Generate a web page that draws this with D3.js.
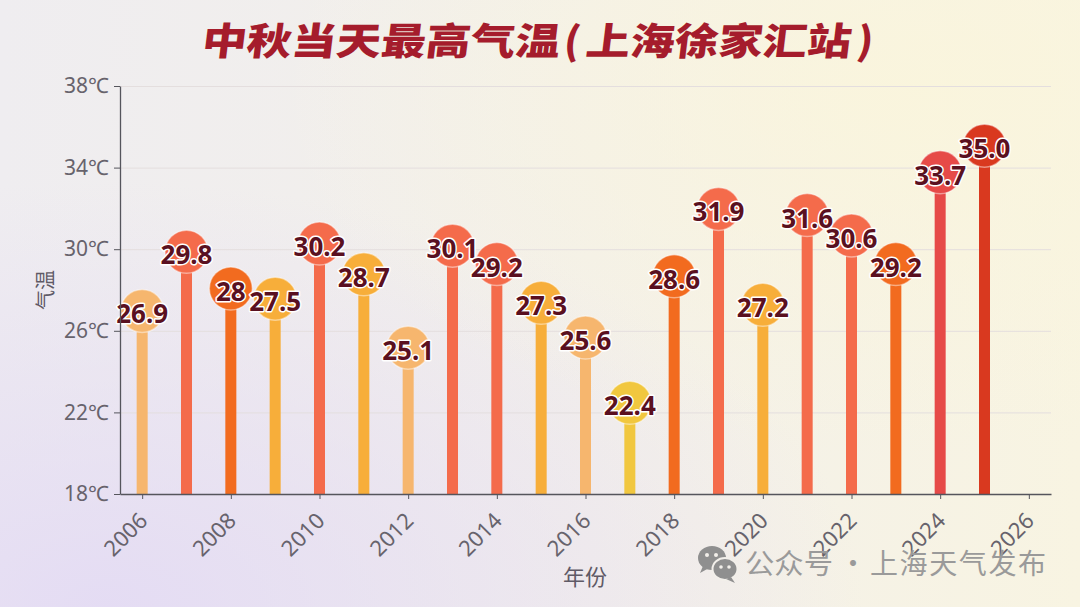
<!DOCTYPE html>
<html>
<head>
<meta charset="utf-8">
<script src="https://cdn.jsdelivr.net/npm/d3@7"></script>
<style>
  html, body { margin: 0; padding: 0; overflow: hidden; }
  svg { display: block; }
</style>
</head>
<body>
<svg id="chart" width="1080" height="607"></svg>
<script>
// data
const years = [2006, 2007, 2008, 2009, 2010, 2011, 2012, 2013, 2014, 2015,
  2016, 2017, 2018, 2019, 2020, 2021, 2022, 2023, 2024, 2025];
const temps = [26.9, 29.8, 28, 27.5, 30.2, 28.7, 25.1, 30.1, 29.2, 27.3,
  25.6, 22.4, 28.6, 31.9, 27.2, 31.6, 30.6, 29.2, 33.7, 35.0];
const labels = ['26.9', '29.8', '28', '27.5', '30.2', '28.7', '25.1', '30.1', '29.2', '27.3',
  '25.6', '22.4', '28.6', '31.9', '27.2', '31.6', '30.6', '29.2', '33.7', '35.0'];
const groups = ['peach', 'coral', 'orange', 'amber', 'coral', 'amber', 'peach', 'coral', 'coral', 'amber',
  'peach', 'yellow', 'orange', 'coral', 'amber', 'coral', 'coral', 'orange', 'red', 'deep'];
const yTicks = [18, 22, 26, 30, 34, 38];
const xTicks = [2006, 2008, 2010, 2012, 2014, 2016, 2018, 2020, 2022, 2024, 2026];

const width = 1080;
const height = 607;
const margin = { top: 86, right: 29, bottom: 113, left: 120 };

const svg = d3.select('#chart');

const x = d3.scaleLinear()
  .domain([2005.5, 2026.5])
  .range([margin.left, width - margin.right]);

const y = d3.scaleLinear()
  .domain([18, 38])
  .range([height - margin.bottom, margin.top]);

const color = d3.scaleOrdinal()
  .domain(['peach', 'coral', 'orange', 'amber', 'yellow', 'red', 'deep'])
  .range(['#f6b66e', '#f46b4b', '#f26b1f', '#f7ae3a', '#f1c73f', '#e64a48', '#d9391f']);

// background
const defs = svg.append('defs');
const bg = defs.append('linearGradient').attr('id', 'bg').attr('x1', 0).attr('x2', 1).attr('y1', 0).attr('y2', 0);
bg.append('stop').attr('offset', '0%').attr('stop-color', '#efedf0');
bg.append('stop').attr('offset', '55%').attr('stop-color', '#f3f0ea');
bg.append('stop').attr('offset', '100%').attr('stop-color', '#f8f4e2');

const lav = defs.append('radialGradient').attr('id', 'lav')
  .attr('cx', 0.1).attr('cy', 1).attr('r', 0.7);
lav.append('stop').attr('offset', '0%').attr('stop-color', '#e3daf4').attr('stop-opacity', 0.9);
lav.append('stop').attr('offset', '100%').attr('stop-color', '#e3daf4').attr('stop-opacity', 0);

const warm = defs.append('radialGradient').attr('id', 'warm')
  .attr('cx', 0.85).attr('cy', 0.15).attr('r', 0.6);
warm.append('stop').attr('offset', '0%').attr('stop-color', '#faf5dc').attr('stop-opacity', 0.9);
warm.append('stop').attr('offset', '100%').attr('stop-color', '#faf5dc').attr('stop-opacity', 0);

svg.append('rect').attr('width', width).attr('height', height).attr('fill', 'url(#bg)');
svg.append('rect').attr('width', width).attr('height', height).attr('fill', 'url(#lav)');
svg.append('rect').attr('width', width).attr('height', height).attr('fill', 'url(#warm)');

// title, split so the pieces sit where the poster font puts them
const title = svg.append('g')
  .attr('transform', 'skewX(-7) translate(6.6,0)')
  .style('font-family', '"Noto Sans CJK SC", sans-serif')
  .style('font-weight', 900)
  .style('font-size', '38px')
  .attr('fill', '#a51c2c');
title.append('text').attr('x', 201).attr('y', 55)
  .attr('textLength', 358).attr('lengthAdjust', 'spacingAndGlyphs').text('中秋当天最高气温');
title.append('text').attr('x', 563).attr('y', 55)
  .attr('textLength', 16).attr('lengthAdjust', 'spacingAndGlyphs').text('(');
title.append('text').attr('x', 585).attr('y', 55)
  .attr('textLength', 265).attr('lengthAdjust', 'spacingAndGlyphs').text('上海徐家汇站');
title.append('text').attr('x', 856).attr('y', 55)
  .attr('textLength', 16).attr('lengthAdjust', 'spacingAndGlyphs').text(')');

// grid
svg.append('g')
  .attr('transform', `translate(${margin.left},0)`)
  .call(d3.axisLeft(y).tickValues(yTicks.slice(1)).tickSize(-(width - margin.left - margin.right)).tickFormat(''))
  .call(g => g.select('.domain').remove())
  .call(g => g.selectAll('line').attr('stroke', '#e4dede').attr('stroke-width', 1));

// lollipops
const points = years.map((yr, i) => ({ year: yr, value: temps[i], label: labels[i], group: groups[i] }));

const pop = svg.append('g').selectAll('g').data(points).join('g');

pop.append('rect')
  .attr('x', d => x(d.year) - 5.5)
  .attr('width', 11)
  .attr('y', d => y(d.value))
  .attr('height', d => y(18) - y(d.value))
  .attr('fill', d => color(d.group));

pop.append('circle')
  .attr('cx', d => x(d.year))
  .attr('cy', d => y(d.value) - 1.5)
  .attr('r', 21.5)
  .attr('fill', d => color(d.group))
  .attr('stroke', '#fff')
  .attr('stroke-opacity', 0.45)
  .attr('stroke-width', 1.5);

pop.append('text')
  .attr('x', d => x(d.year))
  .attr('y', d => y(d.value) + 1)
  .attr('text-anchor', 'middle')
  .attr('dominant-baseline', 'central')
  .style('font-family', '"Noto Sans", sans-serif')
  .style('font-weight', 700)
  .style('font-size', '26px')
  .attr('fill', '#5a1020')
  .attr('stroke', '#fff')
  .attr('stroke-width', 3)
  .attr('stroke-linejoin', 'round')
  .attr('paint-order', 'stroke')
  .text(d => d.label);

// axes
svg.append('g')
  .attr('transform', `translate(${margin.left},0)`)
  .call(d3.axisLeft(y).tickValues(yTicks).tickFormat(d => d + '℃').tickSize(6).tickSizeOuter(0).tickPadding(5))
  .call(g => g.select('.domain').attr('stroke', '#55555c').attr('stroke-width', 1.3))
  .call(g => g.selectAll('line').attr('stroke', '#55555c'))
  .call(g => g.selectAll('text')
    .style('font-family', '"Noto Sans", sans-serif')
    .style('font-size', '21px')
    .attr('fill', '#67636c'));

svg.append('g')
  .attr('transform', `translate(0,${height - margin.bottom})`)
  .call(d3.axisBottom(x).tickValues(xTicks).tickFormat(d3.format('d')).tickSize(5).tickSizeOuter(0))
  .call(g => g.select('.domain').attr('stroke', '#55555c').attr('stroke-width', 1.3))
  .call(g => g.selectAll('line').attr('stroke', '#55555c'))
  .call(g => g.selectAll('text')
    .attr('x', 0)
    .attr('y', 0)
    .attr('dy', 0)
    .attr('text-anchor', 'end')
    .attr('dominant-baseline', 'middle')
    .attr('transform', 'translate(2,24) rotate(-45)')
    .style('font-family', '"Noto Sans", sans-serif')
    .style('font-size', '22px')
    .attr('fill', '#67636c'));

// axis titles
svg.append('text')
  .attr('transform', 'translate(44,290) rotate(-90)')
  .attr('text-anchor', 'middle')
  .attr('dominant-baseline', 'central')
  .style('font-family', '"Noto Sans CJK SC", sans-serif')
  .style('font-size', '20px')
  .attr('fill', '#5f5a66')
  .text('气温');

svg.append('text')
  .attr('x', 585)
  .attr('y', 585)
  .attr('text-anchor', 'middle')
  .style('font-family', '"Noto Sans CJK SC", sans-serif')
  .style('font-size', '22px')
  .attr('fill', '#5f5a66')
  .text('年份');

// watermark
const wm = svg.append('g').attr('fill', '#8f8f8f');
wm.append('ellipse').attr('cx', 712).attr('cy', 558).attr('rx', 14).attr('ry', 12);
wm.append('path').attr('d', 'M703,566 L700,573 L709,568 Z');
wm.append('circle').attr('cx', 707).attr('cy', 555).attr('r', 2).attr('fill', '#f2efea');
wm.append('circle').attr('cx', 716).attr('cy', 555).attr('r', 2).attr('fill', '#f2efea');
wm.append('ellipse').attr('cx', 725).attr('cy', 569).attr('rx', 12.5).attr('ry', 11)
  .attr('stroke', '#f2efea').attr('stroke-width', 2);
wm.append('path').attr('d', 'M731,577 L735,583 L726,579 Z');
wm.append('circle').attr('cx', 721).attr('cy', 567).attr('r', 1.8).attr('fill', '#f2efea');
wm.append('circle').attr('cx', 729).attr('cy', 567).attr('r', 1.8).attr('fill', '#f2efea');

const wmText = svg.append('g')
  .style('font-family', '"Noto Sans CJK SC", sans-serif')
  .style('font-size', '28px')
  .attr('fill', '#9a9a9a');
wmText.append('text').attr('x', 745).attr('y', 574)
  .attr('textLength', 88).attr('lengthAdjust', 'spacingAndGlyphs').text('公众号');
wmText.append('text').attr('x', 853).attr('y', 574).attr('text-anchor', 'middle').text('·');
wmText.append('text').attr('x', 870).attr('y', 574)
  .attr('textLength', 176).attr('lengthAdjust', 'spacing').text('上海天气发布');
</script>
</body>
</html>
